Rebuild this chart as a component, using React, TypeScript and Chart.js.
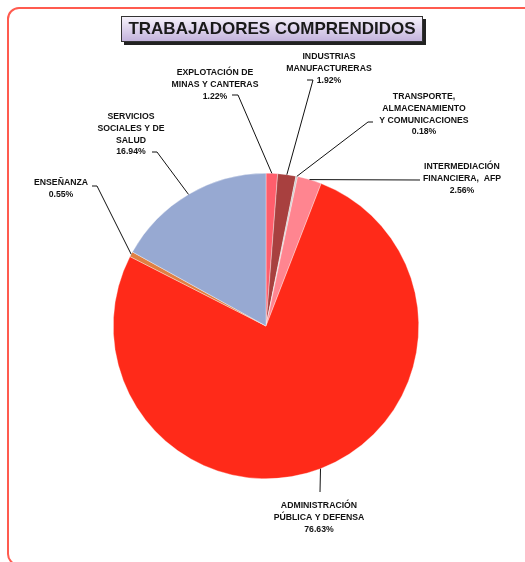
import React, { useEffect, useRef } from "react";
import { Chart, registerables } from "chart.js";

Chart.register(...registerables);

const categories: string[] = [
  "EXPLOTACIÓN DE\nMINAS Y CANTERAS",
  "INDUSTRIAS\nMANUFACTURERAS",
  "TRANSPORTE,\nALMACENAMIENTO\nY COMUNICACIONES",
  "INTERMEDIACIÓN\nFINANCIERA,  AFP",
  "ADMINISTRACIÓN\nPÚBLICA Y DEFENSA",
  "ENSEÑANZA",
  "SERVICIOS\nSOCIALES Y DE\nSALUD",
];
const shares: number[] = [1.22, 1.92, 0.18, 2.56, 76.63, 0.55, 16.94];
const sliceColors: string[] = [
  "#ff5e6c",
  "#a8403f",
  "#c9c9c9",
  "#ff8590",
  "#ff2a19",
  "#e08043",
  "#97a9d2",
];
const title = "TRABAJADORES COMPRENDIDOS";

// label layout: text center, first line y, leader path points (from slice edge outward)
const labelLayout = [
  { tx: 215, ty: 73, path: [[238, 95], [232, 95]] },
  { tx: 329, ty: 57, path: [[313, 80], [307, 80]] },
  { tx: 424, ty: 97, path: [[368, 122], [373, 122]] },
  { tx: 462, ty: 167, path: [[420, 180]] },
  { tx: 319, ty: 506, path: [[320, 492]] },
  { tx: 61, ty: 183, path: [[97, 186], [92, 186]] },
  { tx: 131, ty: 117, path: [[157, 152], [152, 152]] },
];

const labelPlugin = {
  id: "pieLabels",
  afterDraw(chart: any) {
    const ctx = chart.ctx;
    const meta = chart.getDatasetMeta(0);
    ctx.save();
    ctx.font = "bold 8.7px 'Liberation Sans', Arial, sans-serif";
    ctx.fillStyle = "#111";
    ctx.textAlign = "center";
    ctx.textBaseline = "middle";
    ctx.strokeStyle = "#111";
    ctx.lineWidth = 1;
    meta.data.forEach((arc: any, i: number) => {
      const p = arc.getProps(["x", "y", "startAngle", "endAngle", "outerRadius"], true);
      const mid = (p.startAngle + p.endAngle) / 2;
      const sx = p.x + Math.cos(mid) * p.outerRadius;
      const sy = p.y + Math.sin(mid) * p.outerRadius;
      const lay = labelLayout[i];
      ctx.beginPath();
      ctx.moveTo(sx, sy);
      lay.path.forEach((pt) => ctx.lineTo(pt[0], pt[1]));
      ctx.stroke();
      const lines = categories[i].split("\n");
      lines.push(shares[i].toFixed(2) + "%");
      lines.forEach((ln, k) => {
        ctx.fillText(ln, lay.tx, lay.ty + k * 11.7);
      });
    });
    ctx.restore();
  },
};

export default function App() {
  const ref = useRef<HTMLCanvasElement | null>(null);
  useEffect(() => {
    document.body.style.margin = "0";
    const chart = new Chart(ref.current as HTMLCanvasElement, {
      type: "pie",
      data: {
        labels: categories,
        datasets: [
          {
            data: shares,
            backgroundColor: sliceColors,
            borderColor: "rgba(255,255,255,0.7)",
            borderWidth: 0.5,
          },
        ],
      },
      options: {
        responsive: false,
        maintainAspectRatio: false,
        animation: false,
        layout: { padding: { left: 113, right: 106, top: 173, bottom: 83 } },
        plugins: {
          legend: { display: false },
          tooltip: { enabled: false },
          title: { display: false },
        },
      },
      plugins: [labelPlugin],
    });
    return () => chart.destroy();
  }, []);

  return (
    <div style={{ position: "relative", width: 525, height: 562, overflow: "hidden", background: "#fff" }}>
      <div
        style={{
          position: "absolute",
          left: 7,
          top: 7,
          width: 545,
          height: 559,
          boxSizing: "border-box",
          border: "2px solid #ff5b4f",
          borderRadius: 12,
        }}
      />
      <canvas ref={ref} width={525} height={562} style={{ position: "absolute", left: 0, top: 0 }} />
      <div
        style={{
          position: "absolute",
          left: 121,
          top: 16,
          width: 302,
          height: 26,
          boxSizing: "border-box",
          border: "1px solid #333",
          background: "linear-gradient(#f6f2fb, #c3b3dc)",
          boxShadow: "3px 3px 0 #222",
          font: "bold 17px 'Liberation Sans', Arial, sans-serif",
          color: "#1a1a1a",
          textAlign: "center",
          lineHeight: "24px",
          whiteSpace: "nowrap",
        }}
      >
        {title}
      </div>
    </div>
  );
}
